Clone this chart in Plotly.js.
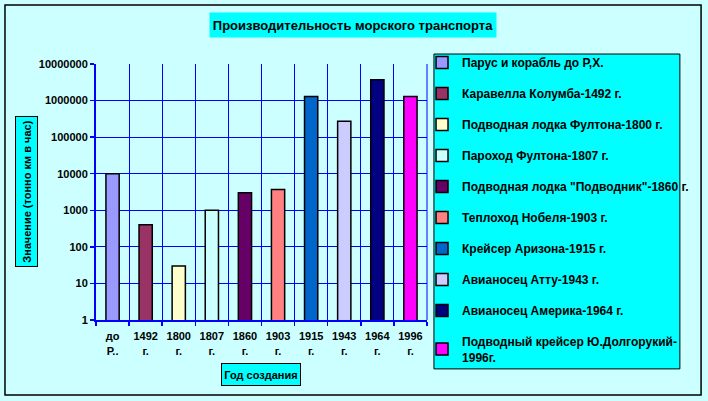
<!DOCTYPE html>
<html>
<head>
<meta charset="utf-8">
<script src="https://cdn.plot.ly/plotly-3.0.1.min.js"></script>
<style>
  body { margin: 0; padding: 0; background: #CCFFFF; }
  #chart { width: 708px; height: 401px; }
</style>
</head>
<body>
<div id="chart"></div>
<script>
// categories on the x axis (year of creation)
var years = ['до<br>Р..', '1492<br>г.', '1800<br>г.', '1807<br>г.', '1860<br>г.',
  '1903<br>г.', '1915<br>г.', '1943<br>г.', '1964<br>г.', '1996<br>г.'];
// one series per vessel
var vessels = [
  'Парус и корабль до Р,Х.',
  'Каравелла Колумба-1492 г.',
  'Подводная лодка Фултона-1800 г.',
  'Пароход Фултона-1807 г.',
  'Подводная лодка "Подводник"-1860 г.',
  'Теплоход Нобеля-1903 г.',
  'Крейсер Аризона-1915 г.',
  'Авианосец Атту-1943 г.',
  'Авианосец Америка-1964 г.',
  'Подводный крейсер Ю.Долгорукий-<br>1996г.'
];
var values = [10000, 400, 30, 1000, 3000, 3700, 1300000, 270000, 3700000, 1300000];
var colors = ['#9999FF', '#993366', '#FFFFCC', '#CCFFFF', '#660066',
  '#FF8080', '#0066CC', '#CCCCFF', '#000080', '#FF00FF'];
var yTicks = [1, 10, 100, 1000, 10000, 100000, 1000000, 10000000];
var yTickText = ['1', '10', '100', '1000', '10000', '100000', '1000000', '10000000'];

var FONT = 'Liberation Sans, Arial, sans-serif';

var data = [];
for (i = 0; i < years.length; i++) {
  var trace = {
    x: [years[i]],
    y: [values[i]],
    name: vessels[i],
    legendgroup: 'g' + i,
    type: 'bar',
    width: 0.4,
    marker: {
      color: colors[i],
      line: { color: '#000000', width: 1.5 }
    },
    hoverinfo: 'y+name'
  };
  data.push(trace);
} // End of loop

var layout = {
  width: 708,
  height: 401,
  margin: { l: 96, r: 281, t: 64, b: 81 },
  paper_bgcolor: '#CCFFFF',
  plot_bgcolor: '#CCFFFF',
  barmode: 'overlay',
  font: { family: FONT, size: 11, color: '#000000', weight: 'bold' },
  showlegend: true,
  legend: {
    x: 0.985, y: 1.0625, xanchor: 'left', yanchor: 'top',
    bgcolor: 'rgba(0,0,0,0)',
    borderwidth: 0,
    tracegroupgap: 12,
    itemwidth: 30,
    maxheight: 400,
    font: { family: FONT, size: 12, weight: 'bold' }
  },
  xaxis: {
    type: 'category',
    categoryorder: 'array',
    categoryarray: years,
    tickson: 'boundaries',
    tickangle: 0,
    ticklabelstandoff: 5,
    showgrid: true,
    gridcolor: '#0000FF',
    gridwidth: 1,
    showline: true,
    linecolor: '#0000FF',
    linewidth: 2,
    ticks: 'outside',
    ticklen: 4,
    tickcolor: '#0000FF',
    tickwidth: 1.5,
    tickfont: { family: FONT, size: 11, weight: 'bold' },
    fixedrange: true
  },
  yaxis: {
    type: 'log',
    range: [0, 7],
    tickvals: yTicks,
    ticktext: yTickText,
    showgrid: true,
    gridcolor: '#0000FF',
    gridwidth: 1,
    showline: true,
    linecolor: '#0000FF',
    linewidth: 2,
    ticks: 'outside',
    ticklen: 4,
    tickcolor: '#0000FF',
    tickwidth: 1.5,
    tickfont: { family: FONT, size: 11, weight: 'bold' },
    fixedrange: true
  },
  shapes: [
    // outer chart border
    {
      type: 'rect', xref: 'paper', yref: 'paper',
      x0: -0.275, x1: 1.828, y0: -0.293, y1: 1.230,
      line: { color: '#000000', width: 1.5 }, fillcolor: 'rgba(0,0,0,0)', layer: 'below'
    },
    // legend box
    {
      type: 'rect', xref: 'paper', yref: 'paper',
      x0: 1.021, x1: 1.764, y0: -0.191, y1: 1.039,
      line: { color: '#000000', width: 1 }, fillcolor: '#00FFFF', layer: 'below'
    },
    // right edge of plot area
    {
      type: 'line', xref: 'paper', yref: 'paper',
      x0: 1, x1: 1, y0: 0, y1: 1,
      line: { color: '#0000FF', width: 1 }
    }
  ],
  annotations: [
    {
      text: 'Производительность морского транспорта',
      xref: 'paper', yref: 'paper', x: 0.776, y: 1.153,
      xanchor: 'center', yanchor: 'middle', showarrow: false,
      bgcolor: '#00FFFF', width: 284, height: 22, borderpad: 1,
      font: { family: FONT, size: 13, weight: 'bold' }
    },
    {
      text: 'Значение (тонно км в час)',
      xref: 'paper', yref: 'paper', x: -0.21, y: 0.502,
      xanchor: 'center', yanchor: 'middle', showarrow: false, textangle: -90,
      bgcolor: '#00FFFF', bordercolor: '#000000', borderwidth: 1, borderpad: 1,
      width: 147, height: 19,
      font: { family: FONT, size: 11, weight: 'bold' }
    },
    {
      text: 'Год создания',
      xref: 'paper', yref: 'paper', x: 0.4985, y: -0.213,
      xanchor: 'center', yanchor: 'middle', showarrow: false,
      bgcolor: '#00FFFF', bordercolor: '#000000', borderwidth: 1, borderpad: 1,
      width: 76, height: 19,
      font: { family: FONT, size: 11, weight: 'bold' }
    }
  ]
};

Plotly.newPlot('chart', data, layout, { displayModeBar: false, staticPlot: true });
</script>
</body>
</html>
